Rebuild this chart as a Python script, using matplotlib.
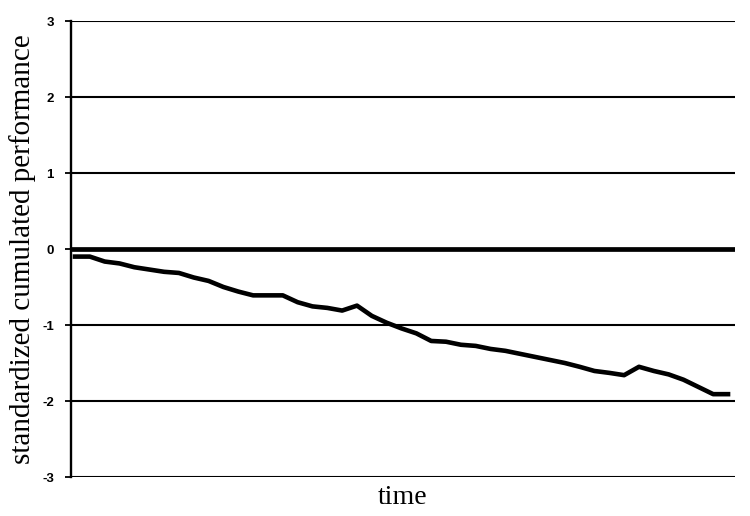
import matplotlib
matplotlib.use("Agg")
import matplotlib.pyplot as plt

# --- data ---
perf = [-0.10, -0.10, -0.165, -0.19, -0.24, -0.27, -0.30, -0.315, -0.375, -0.42,
        -0.50, -0.56, -0.61, -0.61, -0.61, -0.70, -0.755, -0.775, -0.81, -0.745,
        -0.88, -0.97, -1.045, -1.11, -1.21, -1.22, -1.26, -1.275, -1.315, -1.34,
        -1.38, -1.42, -1.46, -1.50, -1.55, -1.605, -1.63, -1.66, -1.55, -1.605,
        -1.65, -1.72, -1.815, -1.91, -1.91]
time_idx = list(range(len(perf)))
y_ticks = [-3, -2, -1, 0, 1, 2, 3]
y_ticklabels = ["-3", "-2", "-1", "0", "1", "2", "3"]

fig = plt.figure(figsize=(7.5, 5.16), dpi=100)
ax = fig.add_axes([71 / 750, 1 - 477 / 516, (735 - 71) / 750, (477 - 21) / 516])

# horizontal grid lines + thick zero line
for t in y_ticks:
    ax.axhline(t, color="black", lw=1.5 if t != 0 else 3.4, zorder=1)

ax.plot(time_idx, perf, color="black", lw=3.3, solid_joinstyle="round", zorder=3)

ax.set_xlim(-0.27, len(perf) - 1 + 0.47)
ax.set_ylim(-3, 3)
ax.set_yticks(y_ticks)
ax.set_yticklabels(y_ticklabels, fontweight="bold", fontsize=9.5, family="Liberation Sans")
ax.set_xticks([])
ax.tick_params(axis="y", direction="out", length=4.3, width=1.3, pad=8)

for s in ["top", "right", "bottom"]:
    ax.spines[s].set_visible(False)
ax.spines["left"].set_linewidth(1.7)

ax.set_ylabel("standardized cumulated performance", family="Liberation Serif",
              fontsize=21, labelpad=4)
ax.set_xlabel("time", family="Liberation Serif", fontsize=20, labelpad=6)

fig.savefig("out.png", dpi=100)
